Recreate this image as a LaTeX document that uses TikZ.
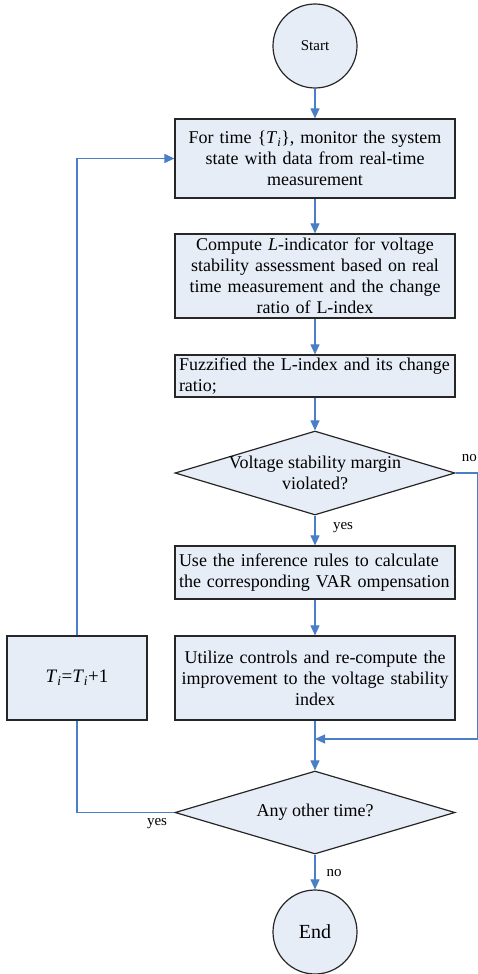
\documentclass[tikz,border=0pt]{standalone}
\usepackage{fontspec}
\setmainfont{Liberation Serif}
\usetikzlibrary{shapes.geometric,arrows.meta}
\definecolor{flowblue}{HTML}{4A7EC7}
\definecolor{boxfill}{HTML}{E7EDF7}

\begin{document}
\begin{tikzpicture}[x=1pt,y=1pt,
    proc_box/.style={rectangle,draw=black!85,line width=1.2pt,fill=boxfill,minimum width=280pt,
        inner xsep=4pt,inner ysep=0pt,text width=272pt,font=\fontsize{18}{21}\selectfont},
    dec_node/.style={diamond,draw=black!85,line width=1.2pt,fill=boxfill,minimum width=280pt,
        minimum height=84pt,inner sep=0pt},
    term_node/.style={circle,draw=black!85,line width=1.2pt,fill=boxfill,minimum size=84pt,inner sep=0pt},
    flow_line/.style={draw=flowblue,line width=1.1pt,-{Triangle[length=10pt,width=9pt]}},
    plain_line/.style={draw=flowblue,line width=1.1pt},
    lbl/.style={font=\fontsize{15}{18}\selectfont,inner sep=0pt}]

    \useasboundingbox (0,0) rectangle (478,-974);

    \node[term_node, font=\fontsize{15}{18}\selectfont] (start) at (315, -46) {Start};
    \node[proc_box, align=center, minimum height=79pt] (box1) at (315, -158.5)
        {For time \{\textit{T}\textsubscript{\textit{i}}\}, monitor the system\\state with data from real-time\\measurement};
    \node[proc_box, align=center, minimum height=84pt] (box2) at (315, -276)
        {Compute \textit{L}-indicator for voltage\\stability assessment based on real\\time measurement and the change\\ratio of L-index};
    \node[proc_box, align=left, minimum height=42pt] (box3) at (315, -376)
        {Fuzzified the L-index and its change\\ratio;};
    \node[dec_node] (d1) at (315, -473) {};
    \node[align=center, font=\fontsize{18}{21}\selectfont, inner sep=0pt] (d1txt) at (d1)
        {Voltage stability margin\\violated?};
    \node[proc_box, align=left, minimum height=53pt] (box4) at (315, -572.5)
        {Use the inference rules to calculate\\the corresponding VAR ompensation};
    \node[proc_box, align=center, minimum height=84pt] (box5) at (315, -678)
        {Utilize controls and re-compute the\\improvement to the voltage stability\\index};
    \node[rectangle, draw=black!85, line width=1.2pt, fill=boxfill, minimum width=140pt,
        minimum height=84pt, font=\fontsize{19}{22}\selectfont] (tibox) at (77, -678)
        {\textit{T}\textsubscript{\textit{i}}=\textit{T}\textsubscript{\textit{i}}+1};
    \node[dec_node, minimum height=83pt] (d2) at (315, -812.5) {};
    \node[font=\fontsize{18}{21}\selectfont, inner sep=0pt] (d2txt) at (d2) {Any other time?};
    \node[term_node, font=\fontsize{20}{24}\selectfont] (stop) at (315, -932) {End};
    \coordinate (merge) at (315, -739);

    \draw[flow_line] (start) -- (box1);
    \draw[flow_line] (box1) -- (box2);
    \draw[flow_line] (box2) -- (box3);
    \draw[flow_line] (box3) -- (d1);
    \draw[flow_line] (d1) -- (box4);
    \draw[flow_line] (box4) -- (box5);
    \draw[flow_line] (box5) -- (d2);
    \draw[flow_line] (d1.east) -- ++(22,0) |- (merge);
    \draw[flow_line] (d2) -- (stop);
    \draw[plain_line] (d2.west) -| (tibox.south);
    \draw[flow_line] (tibox.north) |- (box1.west);

    \node[lbl] (yes1) at (343, -528) {yes};
    \node[lbl, anchor=east] (no1) at (477, -458) {no};
    \node[lbl] (yes2) at (157, -824) {yes};
    \node[lbl] (no2) at (334, -873) {no};
\end{tikzpicture}
\end{document}
